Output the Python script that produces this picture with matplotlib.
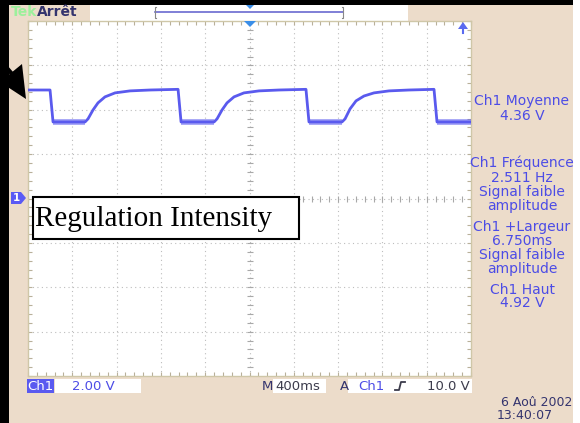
import matplotlib
matplotlib.use("Agg")
import matplotlib.pyplot as plt
import numpy as np
from matplotlib.patches import Rectangle, Polygon

# ---------------- data (read from the screen) ----------------
# time in ms (0..4000 across 10 divisions of 400 ms), voltage in V (2 V/div, ground at centre)
trace_t = [0, 199, 226, 515, 542, 587, 632, 695, 786, 921, 1102, 1355,
           1382, 1680, 1707, 1752, 1797, 1860, 1950, 2086, 2267, 2510,
           2537, 2835, 2863, 2908, 2962, 3034, 3124, 3260, 3440, 3666,
           3693, 4000]
trace_v = [4.89, 4.89, 3.45, 3.45, 3.59, 3.99, 4.31, 4.58, 4.76, 4.85, 4.89, 4.92,
           3.45, 3.45, 3.59, 3.99, 4.31, 4.58, 4.76, 4.85, 4.89, 4.92,
           3.45, 3.45, 3.59, 4.04, 4.40, 4.62, 4.76, 4.85, 4.89, 4.92,
           3.45, 3.45]

meas_lines = ["Ch1 Moyenne", "4.36 V",
              "Ch1 Fréquence", "2.511 Hz", "Signal faible", "amplitude",
              "Ch1 +Largeur", "6.750ms", "Signal faible", "amplitude",
              "Ch1 Haut", "4.92 V"]
meas_y = [101.5, 115.5, 163, 178, 192, 206, 227, 241, 255, 269, 289.5, 303]

ch_label = "Ch1"
volts_div = "2.00 V"
time_div = "400ms"
trig_src = "Ch1"
trig_level = "10.0 V"
date_str = "6 Aoû 2002"
time_str = "13:40:07"
annotation = "Regulation Intensity"

W, H = 580, 423
BEIGE = "#ecdcca"
BLUE = "#4c4ce6"
TRACE = "#5a5aee"
NAVY = "#34346e"

fig = plt.figure(figsize=(W / 100, H / 100), dpi=100)

# background axes in pixel coordinates
bg = fig.add_axes([0, 0, 1, 1])
bg.set_xlim(0, W)
bg.set_ylim(H, 0)
bg.axis("off")
bg.set_zorder(0)
bg.add_patch(Rectangle((0, 0), W, H, color=BEIGE, lw=0))
bg.add_patch(Rectangle((573, 0), 7, H, color="white", lw=0))
bg.add_patch(Rectangle((90, 5), 318, 16, color="white", lw=0))
bg.add_patch(Rectangle((0, 0), 573, 5, color="black", lw=0))
bg.add_patch(Rectangle((0, 0), 9, H, color="black", lw=0))

# scope graticule axes
x0, x1, y0, y1 = 28, 471, 21, 376
ax = fig.add_axes([x0 / W, 1 - y1 / H, (x1 - x0) / W, (y1 - y0) / H])
ax.set_zorder(1)
ax.set_facecolor("white")
ax.set_xlim(0, 4000)
ax.set_ylim(-8, 8)
for v in np.arange(-6, 8, 2):
    ax.axhline(v, color="#bdbdbd", lw=0.8, ls=(0, (1, 3)), zorder=1)
for t in np.arange(400, 4000, 400):
    ax.axvline(t, color="#bdbdbd", lw=0.8, ls=(0, (1, 3)), zorder=1)
# centre-line ticks
minor_v = np.arange(-8, 8.01, 0.4)
minor_t = np.arange(0, 4000.1, 80)
ax.plot([2000] * len(minor_v), minor_v, ls="none", marker="_", ms=4, color="#a8a8a8", mew=0.8, zorder=1)
ax.plot(minor_t, [0] * len(minor_t), ls="none", marker="|", ms=4, color="#a8a8a8", mew=0.8, zorder=1)
ax.set_xticks(np.arange(0, 4001, 400))
ax.set_yticks(np.arange(-8, 8.1, 2))
ax.set_xticks(minor_t, minor=True)
ax.set_yticks(minor_v, minor=True)
ax.tick_params(which="both", direction="in", length=3, color="#b8b09a", width=0.8,
               top=True, right=True, labelbottom=False, labelleft=False)
for s in ax.spines.values():
    s.set_color("#cfc7a8")
    s.set_linewidth(1.0)

# trace
tt = np.array(trace_t)
vv = np.array(trace_v)
for i in range(len(tt) - 1):
    if vv[i] < 3.5 and vv[i + 1] < 3.5:
        ax.plot(tt[i:i + 2], vv[i:i + 2], color=TRACE, lw=4.2, alpha=0.55,
                solid_capstyle="butt", zorder=3)
ax.plot(tt, vv, color=TRACE, lw=2.0, zorder=4)

# overlay axes for markers and text
ov = fig.add_axes([0, 0, 1, 1])
ov.set_xlim(0, W)
ov.set_ylim(H, 0)
ov.axis("off")
ov.set_zorder(2)
ov.patch.set_alpha(0)

# top bar
ov.text(11, 12, "Tek", color="#9cf09c", fontsize=10, fontweight="bold", va="center", ha="left")
ov.text(37, 12, "Arrêt", color=NAVY, fontsize=10, fontweight="bold", va="center", ha="left")
ov.plot([155, 343], [12, 12], color="#6a6ad0", lw=1.2)
ov.plot([156, 155, 155, 156], [7, 7, 18, 18], color="#888888", lw=0.8)
ov.plot([342, 343, 343, 342], [7, 7, 18, 18], color="#888888", lw=0.8)
ov.add_patch(Polygon([(246, 5), (254, 5), (250, 9)], color="#3a8ee8", lw=0))
# trigger position marker and trigger level arrow
ov.add_patch(Polygon([(244, 21), (256, 21), (250, 27)], color="#3a8ee8", lw=0))
ov.add_patch(Polygon([(458, 29), (468, 29), (463, 22)], color="#5a6af0", lw=0))
ov.plot([463, 463], [28, 33], color="#5a6af0", lw=1.5)
# ground marker
ov.add_patch(Polygon([(11, 192), (21, 192), (26, 198), (21, 204), (11, 204)], color="#5a5af5", lw=0))
ov.text(16, 198, "1", color="white", fontsize=7.5, fontweight="bold", ha="center", va="center")

# black pointer arrow
ov.add_patch(Polygon([(26, 99), (22, 64), (0, 82)], color="black", lw=0))
ov.plot([0, 12], [60, 74], color="black", lw=3)

# annotation box
ov.add_patch(Rectangle((33, 197), 266, 42, facecolor="white", edgecolor="black", lw=1.5))
ov.text(35, 226, annotation, fontsize=21, family="Liberation Serif", color="black",
        ha="left", va="baseline")

# measurement panel
for s, y in zip(meas_lines, meas_y):
    ov.text(522, y, s, color=BLUE, fontsize=10, ha="center", va="center")

# bottom status row
ov.add_patch(Rectangle((27, 379), 27, 14, color="#5a5af0", lw=0))
ov.text(40.5, 386, ch_label, color="white", fontsize=9.5, ha="center", va="center")
ov.add_patch(Rectangle((55, 379), 86, 14, color="white", lw=0))
ov.text(72, 386, volts_div, color=BLUE, fontsize=9.5, ha="left", va="center")
ov.text(262, 386, "M", color=NAVY, fontsize=9.5, ha="left", va="center")
ov.add_patch(Rectangle((273, 379), 53, 14, color="white", lw=0))
ov.text(275, 386, time_div, color="#3c3c4c", fontsize=9.5, ha="left", va="center")
ov.text(340, 386, "A", color=NAVY, fontsize=9.5, ha="left", va="center")
ov.add_patch(Rectangle((348, 379), 124, 14, color="white", lw=0))
ov.text(358, 386, trig_src, color=BLUE, fontsize=9.5, ha="left", va="center")
ov.plot([395, 399, 401, 405], [390, 390, 382, 382], color="#3c3c4c", lw=1.3)
ov.text(470, 386, trig_level, color="#3c3c4c", fontsize=9.5, ha="right", va="center")
ov.text(572, 402, date_str, color=NAVY, fontsize=9, ha="right", va="center")
ov.text(553, 415.5, time_str, color=NAVY, fontsize=9, ha="right", va="center")

fig.savefig("out.png", dpi=100)
